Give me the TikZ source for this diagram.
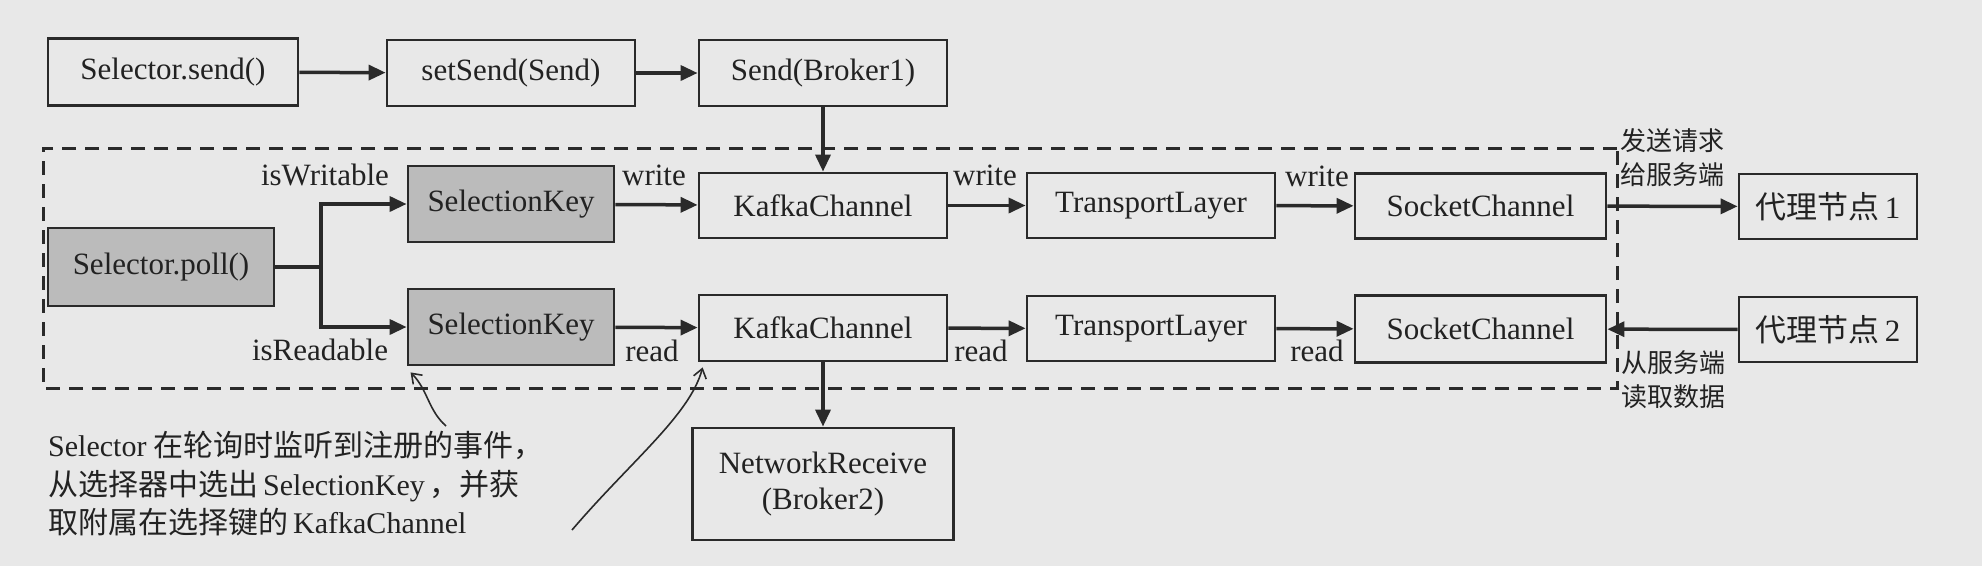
\documentclass[tikz,border=0pt]{standalone}
\usepackage{fontspec}
\setmainfont{Liberation Serif}
\newfontfamily\cjk{Noto Sans CJK SC}
\usetikzlibrary{arrows.meta}
\definecolor{bgc}{HTML}{E8E8E8}
\definecolor{linec}{HTML}{2A2A2A}
\definecolor{grayf}{HTML}{BBBBBB}
\definecolor{textc}{HTML}{222222}
\tikzset{
  box/.style={draw=linec, line width=2.8pt, inner sep=0pt, text=textc,
    font=\fontsize{31}{36}\selectfont, align=center},
  gbox/.style={box, fill=grayf},
  lbl/.style={inner sep=0pt, text=textc, font=\fontsize{31}{36}\selectfont},
  side/.style={inner sep=0pt, text=textc, align=left, anchor=west,
    font=\fontsize{26}{34}\selectfont\cjk},
  arr/.style={draw=linec, line width=3.5pt, -{Triangle[length=17pt,width=15pt]}},
  plain/.style={draw=linec, line width=3.5pt},
  note/.style={draw=linec, line width=1.6pt, -{Straight Barb[length=9pt,width=13pt]}},
  frame/.style={draw=linec, line width=3pt, dash pattern=on 14pt off 9pt},
}
\begin{document}
\begin{tikzpicture}[x=1pt, y=-1pt]
\fill[bgc] (0,0) rectangle (1982,566);
\useasboundingbox (0,0) rectangle (1982,566);

% dashed frame
\draw[frame] (1617,148) -- (43,148) -- (43,388) -- (1617,388) -- cycle;

% top row
\node[box, minimum width=250pt, minimum height=67pt] (send) at (173,72) {Selector.send()};
\node[box, minimum width=248pt, minimum height=66pt] (setsend) at (511,73) {setSend(Send)};
\node[box, minimum width=248pt, minimum height=66pt] (sendb) at (823,73) {Send(Broker1)};

% poll and selection keys
\node[gbox, minimum width=226pt, minimum height=78pt] (poll) at (161,267) {Selector.poll()};
\node[gbox, minimum width=206pt, minimum height=76pt] (sk1) at (511,204) {SelectionKey};
\node[gbox, minimum width=206pt, minimum height=76pt] (sk2) at (511,327) {SelectionKey};

% write row
\node[box, minimum width=248pt, minimum height=65pt] (kc1) at (823,205.5) {KafkaChannel};
\node[box, minimum width=248pt, minimum height=65pt] (tl1) at (1151,205.5) {TransportLayer};
\node[box, minimum width=251pt, minimum height=65pt] (sc1) at (1480.5,206) {SocketChannel};
\node[box, minimum width=178pt, minimum height=65pt] (p1) at (1828,206.5) {{\cjk 代理节点}\,1};

% read row
\node[box, minimum width=248pt, minimum height=66pt] (kc2) at (823,328) {KafkaChannel};
\node[box, minimum width=248pt, minimum height=65pt] (tl2) at (1151,328.5) {TransportLayer};
\node[box, minimum width=251pt, minimum height=67pt] (sc2) at (1480.5,329) {SocketChannel};
\node[box, minimum width=178pt, minimum height=65pt] (p2) at (1828,329.5) {{\cjk 代理节点}\,2};

% network receive
\node[box, minimum width=261pt, minimum height=112pt] (nr) at (823,484) {NetworkReceive\\(Broker2)};

% connectors top
\draw[arr] (send) -- (setsend);
\draw[arr] (setsend) -- (sendb);
\draw[arr] (sendb) -- (kc1);

% branch
\coordinate (br) at (321,267);
\draw[plain] (poll.east) -- (br);
\draw[arr] (br) |- (sk1.west);
\draw[arr] (br) |- (sk2.west);

% write chain
\draw[arr] (sk1) -- (kc1);
\draw[arr] (kc1) -- (tl1);
\draw[arr] (tl1) -- (sc1);
\draw[arr] (sc1) -- (p1);

% read chain
\draw[arr] (sk2) -- (kc2);
\draw[arr] (kc2) -- (tl2);
\draw[arr] (tl2) -- (sc2);
\draw[arr] (p2) -- (sc2);
\draw[arr] (kc2) -- (nr);

% labels
\node[lbl] (lw) at (325,175) {isWritable};
\node[lbl] (lr) at (320,350) {isReadable};
\node[lbl] (w1) at (654,175) {write};
\node[lbl] (w2) at (985,175) {write};
\node[lbl] (w3) at (1317,176) {write};
\node[lbl] (r1) at (652,351) {read};
\node[lbl] (r2) at (981,351) {read};
\node[lbl] (r3) at (1317,351) {read};

\node[side] (sendreq) at (1620,158) {发送请求\\给服务端};
\node[side] (readresp) at (1621,380) {从服务端\\读取数据};

% annotation
\node[anchor=north west, inner sep=0pt, align=left, text=textc,
  font=\fontsize{30}{38.5}\selectfont] (ann) at (48,431)
  {Selector {\cjk 在轮询时监听到注册的事件，}\\
   {\cjk 从选择器中选出}\,SelectionKey\,{\cjk ，并获}\\
   {\cjk 取附属在选择键的}\,KafkaChannel};

\coordinate (n1s) at (446,426);
\coordinate (n2s) at (572,530);
\draw[note] (n1s) .. controls (428,410) and (428,390) .. ([shift={(4,6)}]sk2.south west);
\draw[note] (n2s) .. controls (630,462) and (690,415) .. ([shift={(5,5)}]kc2.south west);
\end{tikzpicture}
\end{document}
